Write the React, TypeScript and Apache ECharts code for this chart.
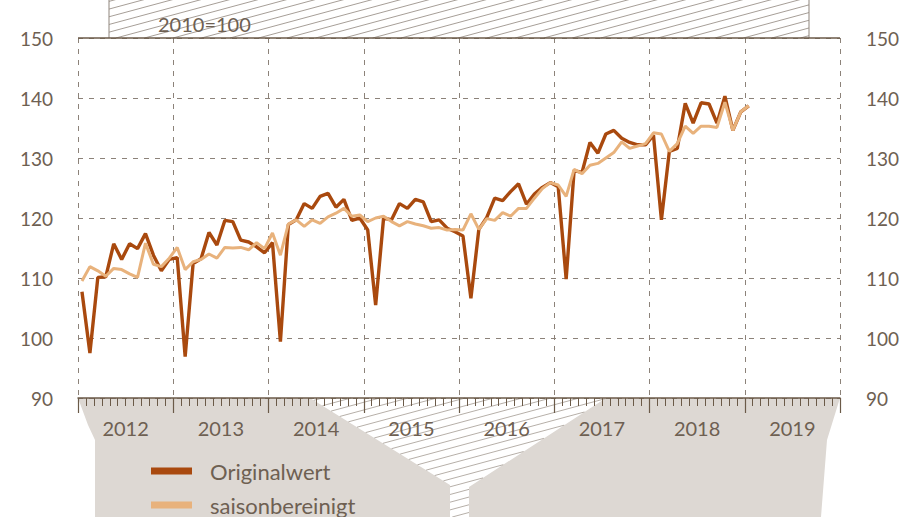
import React, { useEffect, useRef } from "react";
import * as echarts from "echarts";

const years = ["2012", "2013", "2014", "2015", "2016", "2017", "2018", "2019"];
const yTicks = [90, 100, 110, 120, 130, 140, 150];

// Monthly values, Jan 2012 .. Jan 2019
const original = [
  107.7, 97.5, 110.1, 110.2, 115.7, 113.1, 115.7, 114.9, 117.4, 113.8, 111.2, 113.1,
  113.4, 96.9, 112.4, 113.2, 117.6, 115.5, 119.6, 119.4, 116.3, 116.0, 115.2, 114.2,
  115.9, 99.4, 118.9, 119.7, 122.4, 121.6, 123.6, 124.1, 121.8, 123.1, 119.6, 120.0,
  118.0, 105.5, 120.0, 119.7, 122.4, 121.6, 123.1, 122.7, 119.4, 119.7, 118.3, 117.7,
  117.0, 106.6, 118.1, 120.1, 123.3, 122.9, 124.4, 125.7, 122.3, 124.0, 125.1, 125.9,
  125.2, 109.8, 127.9, 127.6, 132.6, 130.8, 134.0, 134.6, 133.3, 132.6, 132.2, 132.2,
  133.8, 119.7, 131.1, 131.6, 139.1, 135.8, 139.2, 139.0, 135.8, 140.3, 134.6, 137.7,
  138.7,
];
const seasonal = [
  109.5, 111.9, 111.2, 110.3, 111.6, 111.4, 110.7, 110.1, 115.8, 112.3, 111.9, 113.3,
  115.1, 111.4, 112.7, 113.1, 114.0, 113.3, 115.1, 115.0, 115.1, 114.7, 115.9, 114.9,
  117.5, 113.8, 119.0, 119.7, 118.6, 119.7, 119.1, 120.2, 120.8, 121.6, 120.3, 120.5,
  119.4, 120.0, 120.3, 119.4, 118.7, 119.4, 119.0, 118.7, 118.3, 118.4, 118.0, 118.1,
  118.0, 120.7, 118.1, 119.9, 119.6, 120.9, 120.3, 121.6, 121.6, 123.3, 124.9, 125.9,
  125.5, 123.6, 128.1, 127.4, 128.8, 129.1, 130.0, 130.9, 132.7, 131.6, 132.0, 132.4,
  134.2, 134.0, 131.1, 132.4, 135.3, 134.1, 135.3, 135.3, 135.1, 139.3, 134.6, 137.7,
  138.7,
];
const seriesNames = ["Originalwert", "saisonbereinigt"];

const TEXT = "#6e6052";
const AXIS = "#6b5a48";
const GRID = "#8c8279";
const GREY = "#ddd8d3";
const C_ORIG = "#a9490e";
const C_SA = "#e8b27c";
const FONT = "Lato, 'Open Sans', sans-serif";

function hatch(poly: number[][], slope: number, spacing: number, color: string, width: number) {
  const cs = poly.map((p) => p[1] - slope * p[0]);
  const cmin = Math.min(...cs);
  const cmax = Math.max(...cs);
  const out: any[] = [];
  for (let c = Math.ceil(cmin / spacing) * spacing; c <= cmax; c += spacing) {
    const xs: number[] = [];
    for (let i = 0; i < poly.length; i++) {
      const a = poly[i];
      const b = poly[(i + 1) % poly.length];
      const den = b[1] - a[1] - slope * (b[0] - a[0]);
      if (Math.abs(den) < 1e-9) continue;
      const t = (slope * a[0] + c - a[1]) / den;
      if (t >= 0 && t < 1) xs.push(a[0] + t * (b[0] - a[0]));
    }
    xs.sort((p, q) => p - q);
    for (let k = 0; k + 1 < xs.length; k += 2) {
      out.push({
        type: "line",
        z: -1,
        silent: true,
        shape: { x1: xs[k], y1: slope * xs[k] + c, x2: xs[k + 1], y2: slope * xs[k + 1] + c },
        style: { stroke: color, lineWidth: width },
      });
    }
  }
  return out;
}

export default function App() {
  const ref = useRef<HTMLDivElement>(null);
  useEffect(() => {
    if (!ref.current) return;
    const chart = echarts.init(ref.current, undefined, { renderer: "svg" });

    const leftGrey = [[78, 398], [88, 425], [95, 440], [95, 517], [450, 517], [450, 485], [310, 398]];
    const rightGrey = [[606, 398], [840, 398], [827, 440], [821, 517], [469, 517], [469, 487]];
    const midHatch = [[310, 398], [606, 398], [469, 487], [469, 517], [450, 517], [450, 485]];
    const topBox = [[109, -2], [809, -2], [809, 38], [109, 38]];

    const legendColors = [C_ORIG, C_SA];
    const legendItems: any[] = [];
    seriesNames.forEach((name, i) => {
      const cy = 471 + i * 34;
      legendItems.push({
        type: "rect", z: 10, silent: true,
        shape: { x: 151, y: cy - 3.5, width: 41, height: 7 },
        style: { fill: legendColors[i] },
      });
      legendItems.push({
        type: "text", z: 10, silent: true, x: 210, y: cy,
        style: { text: name, fill: TEXT, font: `22px ${FONT}`, verticalAlign: "middle", align: "left" },
      });
    });

    const graphics: any[] = [
      { type: "polygon", z: -2, silent: true, shape: { points: leftGrey }, style: { fill: GREY } },
      { type: "polygon", z: -2, silent: true, shape: { points: rightGrey }, style: { fill: GREY } },
      ...hatch(midHatch, -0.27, 7.7, "#a39a92", 0.8),
      ...hatch(topBox, -0.27, 7.7, "#8f857c", 0.8),
      { type: "line", z: -1, shape: { x1: 109, y1: 0, x2: 109, y2: 38 }, style: { stroke: "#8f857c", lineWidth: 1 } },
      { type: "line", z: -1, shape: { x1: 809, y1: 0, x2: 809, y2: 38 }, style: { stroke: "#8f857c", lineWidth: 1 } },
      { type: "line", z: 10, shape: { x1: 78, y1: 38, x2: 840, y2: 38 }, style: { stroke: AXIS, lineWidth: 1.5 } },
      {
        type: "text", z: 10, x: 158, y: 24,
        style: { text: "2010=100", fill: TEXT, font: `20px ${FONT}`, verticalAlign: "middle", align: "left" },
      },
      ...legendItems,
    ];

    const option: any = {
      animation: false,
      textStyle: { fontFamily: FONT },
      grid: { left: 78, right: 79, top: 38, bottom: 119, containLabel: false },
      xAxis: [
        {
          type: "value",
          min: 0,
          max: years.length * 12,
          interval: 12,
          axisLine: { show: true, onZero: false, lineStyle: { color: AXIS, width: 1.5 } },
          axisTick: { show: true, length: 15, lineStyle: { color: AXIS, width: 1.2 } },
          minorTick: { show: true, splitNumber: 12, length: 8, lineStyle: { color: AXIS, width: 1 } },
          axisLabel: { show: false },
          splitLine: { show: true, lineStyle: { color: GRID, width: 1, type: [5, 6] } },
        },
        {
          type: "category",
          position: "bottom",
          data: years,
          boundaryGap: true,
          axisLine: { show: false },
          axisTick: { show: false },
          splitLine: { show: false },
          axisLabel: { show: true, margin: 20, fontSize: 20, color: TEXT, fontFamily: FONT },
        },
      ],
      yAxis: [
        {
          type: "value",
          position: "left",
          min: yTicks[0],
          max: yTicks[yTicks.length - 1],
          interval: 10,
          axisLine: { show: false },
          axisTick: { show: false },
          axisLabel: { margin: 25, fontSize: 19, color: TEXT, fontFamily: FONT },
          splitLine: { show: true, lineStyle: { color: GRID, width: 1, type: [5, 6] } },
        },
        {
          type: "value",
          position: "right",
          min: yTicks[0],
          max: yTicks[yTicks.length - 1],
          interval: 10,
          axisLine: { show: false },
          axisTick: { show: false },
          axisLabel: { margin: 26, fontSize: 19, color: TEXT, fontFamily: FONT },
          splitLine: { show: false },
        },
      ],
      series: [
        {
          name: seriesNames[0],
          type: "line",
          xAxisIndex: 0,
          yAxisIndex: 0,
          symbol: "none",
          z: 3,
          lineStyle: { color: C_ORIG, width: 3.4 },
          itemStyle: { color: C_ORIG },
          data: original.map((v, i) => [i + 0.5, v]),
        },
        {
          name: seriesNames[1],
          type: "line",
          xAxisIndex: 0,
          yAxisIndex: 0,
          symbol: "none",
          z: 4,
          lineStyle: { color: C_SA, width: 3 },
          itemStyle: { color: C_SA },
          data: seasonal.map((v, i) => [i + 0.5, v]),
        },
      ],
      graphic: { elements: graphics },
    };
    chart.setOption(option);
    return () => chart.dispose();
  }, []);

  return <div ref={ref} style={{ width: 919, height: 517, position: "absolute", left: 0, top: 0 }} />;
}
